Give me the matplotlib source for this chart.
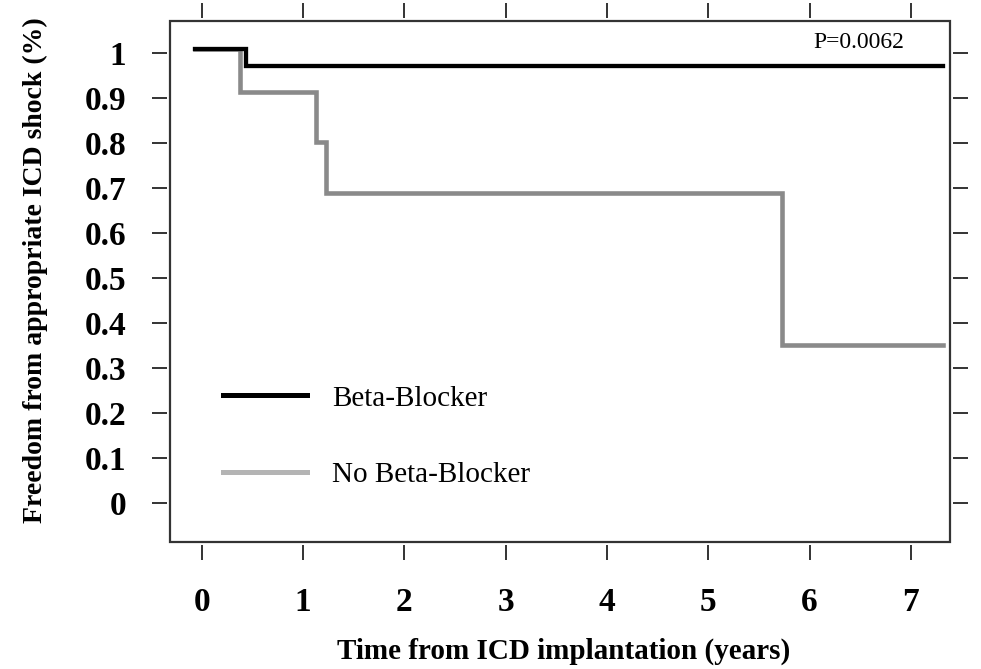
import numpy as np
import matplotlib
matplotlib.use("Agg")
from matplotlib import pyplot as plt
from matplotlib.lines import Line2D
from matplotlib.patches import Rectangle

plt.rcParams["font.family"] = ["Liberation Serif", "DejaVu Serif"]

# Kaplan-Meier step data
bb_time = [-0.07, 0.44, 7.32]
bb_surv = [1.01, 0.972, 0.972]
nbb_time = [-0.07, 0.38, 1.13, 1.23, 5.73, 7.32]
nbb_surv = [1.01, 0.915, 0.803, 0.690, 0.351, 0.351]

x_ticks = [0, 1, 2, 3, 4, 5, 6, 7]
y_ticks = [0, 0.1, 0.2, 0.3, 0.4, 0.5, 0.6, 0.7, 0.8, 0.9, 1.0]
y_labels = ["0", "0.1", "0.2", "0.3", "0.4", "0.5", "0.6", "0.7", "0.8", "0.9", "1"]
series_names = ["Beta-Blocker", "No Beta-Blocker"]
p_text = "P=0.0062"

fig = plt.figure(figsize=(9.81, 6.69), dpi=100)
ax = fig.add_axes([0.1733, 0.1898, 0.7951, 0.7788])

ax.step(nbb_time, nbb_surv, where="post", color="#8a8a8a", lw=3.3, solid_joinstyle="miter")
ax.step(bb_time, bb_surv, where="post", color="black", lw=3.1, solid_joinstyle="miter")

ax.set_xlim(-0.313, 7.387)
ax.set_ylim(-0.0874, 1.072)

# R-style box with detached ticks
for s in ax.spines.values():
    s.set_visible(False)
    s.set_position(("outward", 2.5))
ax.add_patch(Rectangle((0, 0), 1, 1, transform=ax.transAxes, fill=False,
                       edgecolor="#333333", lw=1.6, clip_on=False))

ax.set_xticks(x_ticks)
ax.set_yticks(y_ticks)
ax.set_yticklabels(y_labels)
ax.tick_params(axis="both", which="major", direction="out", length=11, width=1.4,
               color="#333333", top=True, right=True, labeltop=False, labelright=False,
               labelsize=24)
ax.tick_params(axis="x", pad=19)
ax.tick_params(axis="y", pad=18)
for lab in ax.get_xticklabels() + ax.get_yticklabels():
    lab.set_fontweight("bold")

ax.set_xlabel("Time from ICD implantation (years)", fontsize=21, fontweight="bold", va="center")
ax.xaxis.set_label_coords(0.505, -0.209)
ax.set_ylabel("Freedom from appropriate ICD shock (%)", fontsize=20, fontweight="bold", va="center")
ax.yaxis.set_label_coords(-0.173, 0.522)

ax.text(0.883, 0.958, p_text, transform=ax.transAxes, fontsize=17, ha="center", va="center")

handles = [Line2D([], [], color="black", lw=3.6),
           Line2D([], [], color="#b4b4b4", lw=3.6)]
ax.legend(handles, series_names, loc="center left", bbox_to_anchor=(0.068, 0.202),
          frameon=False, fontsize=21, handlelength=2.88, handletextpad=0.86,
          labelspacing=1.72, borderpad=0, borderaxespad=0)

fig.savefig("out.png", dpi=100)
